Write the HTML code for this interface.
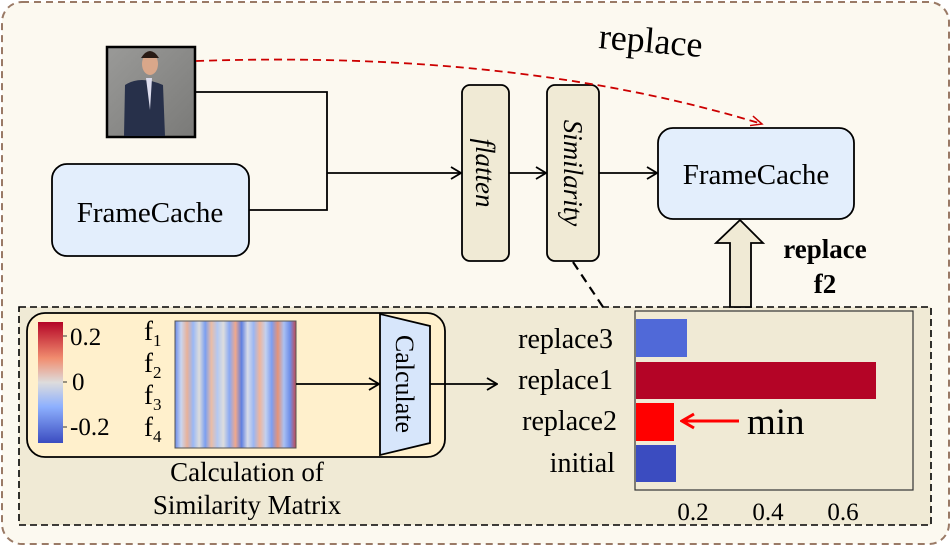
<!DOCTYPE html>
<html><head><meta charset="utf-8"><style>
body{margin:0;width:952px;height:547px;overflow:hidden;background:#fff}
text{font-family:"Liberation Serif",serif}
</style></head><body>
<svg width="952" height="547" viewBox="0 0 952 547" xmlns="http://www.w3.org/2000/svg">
<defs>
<linearGradient id="cb" x1="0" y1="0" x2="0" y2="1">
<stop offset="0" stop-color="#b40426"/><stop offset="0.3" stop-color="#f18d6f"/><stop offset="0.5" stop-color="#dddcdc"/><stop offset="0.7" stop-color="#8db0fe"/><stop offset="1" stop-color="#3b4cc0"/>
</linearGradient>
<linearGradient id="hm" x1="0" y1="0" x2="1" y2="0">
<stop offset="0" stop-color="#6a8ae8"/><stop offset="0.05" stop-color="#c9d6f0"/><stop offset="0.1" stop-color="#e8b19a"/><stop offset="0.15" stop-color="#9ab8f5"/><stop offset="0.2" stop-color="#dcdcdc"/><stop offset="0.25" stop-color="#7b9ff0"/><stop offset="0.3" stop-color="#ebbda5"/><stop offset="0.35" stop-color="#b4c8f0"/><stop offset="0.4" stop-color="#dddddd"/><stop offset="0.45" stop-color="#8aa9f3"/><stop offset="0.5" stop-color="#f0a88c"/><stop offset="0.55" stop-color="#5f7fe0"/><stop offset="0.6" stop-color="#d8dce8"/><stop offset="0.65" stop-color="#9ab6f3"/><stop offset="0.7" stop-color="#eeb59c"/><stop offset="0.75" stop-color="#c2d0ef"/><stop offset="0.8" stop-color="#7d9df0"/><stop offset="0.85" stop-color="#e49378"/><stop offset="0.9" stop-color="#aac0f2"/><stop offset="0.95" stop-color="#6f8ee8"/><stop offset="1" stop-color="#c64a50"/>
</linearGradient>
<linearGradient id="bg" x1="0" y1="0" x2="1" y2="1"><stop offset="0" stop-color="#9a9a98"/><stop offset="1" stop-color="#7a7a78"/></linearGradient>
<marker id="ah" markerWidth="12" markerHeight="14" refX="11" refY="7" orient="auto" markerUnits="userSpaceOnUse"><path d="M1,1 L11,7 L1,13" fill="none" stroke="#000" stroke-width="1.8"/></marker>
<marker id="ar" markerWidth="14" markerHeight="12" refX="12" refY="6" orient="auto" markerUnits="userSpaceOnUse"><path d="M1,1 L12,6 L1,11" fill="none" stroke="#c00" stroke-width="1.5"/></marker>
<marker id="ar2" markerWidth="16" markerHeight="18" refX="14" refY="9" orient="auto" markerUnits="userSpaceOnUse"><path d="M2,2 L14,9 L2,16" fill="none" stroke="#f00" stroke-width="3"/></marker>
</defs>
<rect x="2" y="2" width="947" height="542" rx="20" fill="#fcf9f0" stroke="#9a7a66" stroke-width="2" stroke-dasharray="7,5"/>
<rect x="19" y="307" width="912" height="218" fill="#f0ead5" stroke="#000" stroke-width="1.6" stroke-dasharray="7,4"/>
<!-- photo -->
<rect x="107" y="47" width="88" height="90" fill="url(#bg)" stroke="#000" stroke-width="2.5"/>
<path d="M124,136 L125,85 Q140,75 163,85 L165,136 Z" fill="#27304a"/>
<polygon points="146,78 152,78 150,110" fill="#dde"/>
<ellipse cx="150" cy="64" rx="8" ry="11" fill="#d9a78a"/>
<path d="M141,58 Q150,44 159,58 Z" fill="#2a1c16"/>
<rect x="52" y="164" width="197" height="92" rx="15" fill="#e3eefc" stroke="#000" stroke-width="1.8"/>
<text x="150" y="222" style="font-size:29px" text-anchor="middle">FrameCache</text>
<polyline points="195,92 327,92 327,210 249,210" fill="none" stroke="#000" stroke-width="1.8"/>
<line x1="327" y1="173" x2="461" y2="173" stroke="#000" stroke-width="1.8" marker-end="url(#ah)"/>
<rect x="462" y="85" width="47" height="176" rx="8" fill="#f0ead5" stroke="#000" stroke-width="1.8"/>
<text transform="translate(476,173) rotate(90)" style="font-size:27px;font-style:italic" text-anchor="middle">flatten</text>
<line x1="509" y1="173" x2="546" y2="173" stroke="#000" stroke-width="1.8" marker-end="url(#ah)"/>
<rect x="547" y="85" width="52" height="176" rx="8" fill="#f0ead5" stroke="#000" stroke-width="1.8"/>
<text transform="translate(564,173) rotate(90)" style="font-size:27px;font-style:italic" text-anchor="middle">Similarity</text>
<line x1="599" y1="173" x2="657" y2="173" stroke="#000" stroke-width="1.8" marker-end="url(#ah)"/>
<rect x="658" y="128" width="196" height="91" rx="15" fill="#e3eefc" stroke="#000" stroke-width="1.8"/>
<text x="756" y="184" style="font-size:29px" text-anchor="middle">FrameCache</text>
<path d="M196,61 Q520,50 762,124" fill="none" stroke="#c00" stroke-width="1.8" stroke-dasharray="8,5" marker-end="url(#ar)"/>
<text transform="translate(598,48) rotate(5)" style="font-size:36px">replace</text>
<line x1="573" y1="262" x2="603" y2="307" stroke="#000" stroke-width="2.2" stroke-dasharray="9,6"/>
<!-- up arrow -->
<polygon points="730,307 751,307 751,243 763,243 740,220 716,243 730,243" fill="#f0ead5" stroke="#000" stroke-width="1.8"/>
<text x="825" y="258" style="font-size:27px;font-weight:bold" text-anchor="middle">replace</text>
<text x="825" y="293" style="font-size:27px;font-weight:bold" text-anchor="middle">f2</text>
<!-- matrix panel -->
<rect x="27" y="313" width="418" height="144" rx="18" fill="#fff0cc" stroke="#000" stroke-width="1.8"/>
<rect x="38" y="322" width="25" height="121" fill="url(#cb)"/>
<g stroke="#333" stroke-width="1"><line x1="63" y1="336" x2="67" y2="336"/><line x1="63" y1="382" x2="67" y2="382"/><line x1="63" y1="427" x2="67" y2="427"/></g>
<text x="70" y="345" style="font-size:25px">0.2</text>
<text x="72" y="390" style="font-size:25px">0</text>
<text x="70" y="435" style="font-size:25px">-0.2</text>
<g style="font-size:27px">
<text x="144" y="340">f<tspan style="font-size:17px" dy="6">1</tspan></text>
<text x="144" y="372">f<tspan style="font-size:17px" dy="6">2</tspan></text>
<text x="144" y="404">f<tspan style="font-size:17px" dy="6">3</tspan></text>
<text x="144" y="436">f<tspan style="font-size:17px" dy="6">4</tspan></text>
</g>
<rect x="175" y="321" width="121" height="127" fill="url(#hm)" stroke="#555" stroke-width="1"/>
<line x1="296" y1="384" x2="379" y2="384" stroke="#000" stroke-width="1.8" marker-end="url(#ah)"/>
<polygon points="380,314 430,326 430,443 380,455" fill="#d7e6fb" stroke="#000" stroke-width="1.8"/>
<text transform="translate(396,384) rotate(90)" style="font-size:26px" text-anchor="middle">Calculate</text>
<line x1="430" y1="384" x2="497" y2="384" stroke="#000" stroke-width="1.8" marker-end="url(#ah)"/>
<text x="247" y="481" style="font-size:27px" text-anchor="middle">Calculation of</text>
<text x="247" y="514" style="font-size:27px" text-anchor="middle">Similarity Matrix</text>
<!-- chart -->
<rect x="635" y="311" width="278" height="179" fill="#f0ead5" stroke="#333" stroke-width="1.2"/>
<rect x="636" y="319" width="51" height="38" fill="#5069d8"/>
<rect x="636" y="362" width="240" height="37" fill="#b40426"/>
<rect x="636" y="403" width="38" height="38" fill="#ff0000"/>
<rect x="636" y="445" width="40" height="37" fill="#3b4cc0"/>
<g style="font-size:28px" text-anchor="end">
<text x="613" y="348">replace3</text>
<text x="613" y="389">replace1</text>
<text x="617" y="430">replace2</text>
<text x="615" y="472">initial</text>
</g>
<line x1="739" y1="421" x2="682" y2="421" stroke="#f00" stroke-width="3" marker-end="url(#ar2)"/>
<text x="747" y="434" style="font-size:37px">min</text>
<g style="font-size:25px" text-anchor="middle">
<text x="693" y="520">0.2</text><text x="768" y="520">0.4</text><text x="843" y="520">0.6</text>
</g>
</svg>
</body></html>
